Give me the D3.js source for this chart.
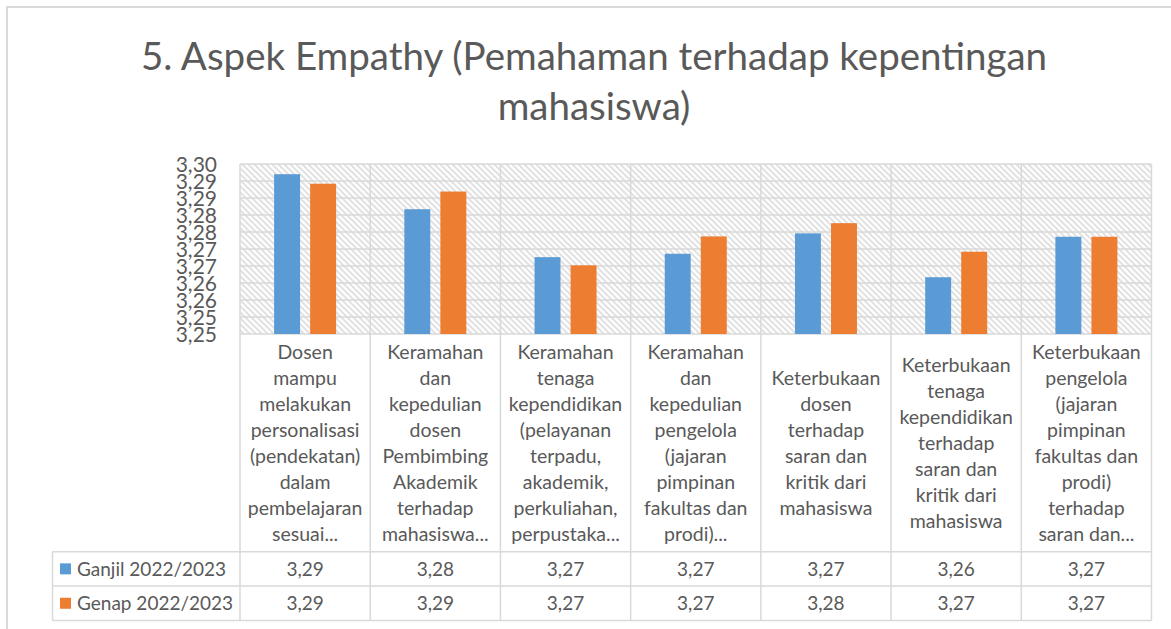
<!DOCTYPE html>
<html>
<head>
<meta charset="utf-8">
<script src="https://cdn.jsdelivr.net/npm/d3@7"></script>
<style>
  body { margin: 0; background: #fff; }
  text { font-family: Lato, "Open Sans", sans-serif; fill: #595959; }
</style>
</head>
<body>
<div id="chart"></div>
<script>
// Data
const categories = [
  ["Dosen", "mampu", "melakukan", "personalisasi", "(pendekatan)", "dalam", "pembelajaran", "sesuai..."],
  ["Keramahan", "dan", "kepedulian", "dosen", "Pembimbing", "Akademik", "terhadap", "mahasiswa..."],
  ["Keramahan", "tenaga", "kependidikan", "(pelayanan", "terpadu,", "akademik,", "perkuliahan,", "perpustaka..."],
  ["Keramahan", "dan", "kepedulian", "pengelola", "(jajaran", "pimpinan", "fakultas dan", "prodi)..."],
  ["Keterbukaan", "dosen", "terhadap", "saran dan", "kritik dari", "mahasiswa"],
  ["Keterbukaan", "tenaga", "kependidikan", "terhadap", "saran dan", "kritik dari", "mahasiswa"],
  ["Keterbukaan", "pengelola", "(jajaran", "pimpinan", "fakultas dan", "prodi)", "terhadap", "saran dan..."]
];
const seriesNames = ["Ganjil 2022/2023", "Genap 2022/2023"];
const ganjil = [3.2970, 3.2867, 3.2726, 3.2736, 3.2796, 3.2667, 3.2786];
const genap = [3.2942, 3.2919, 3.2702, 3.2787, 3.2826, 3.2742, 3.2786];
const colors = ["#5B9BD5", "#ED7D31"];
const title = ["5. Aspek Empathy (Pemahaman terhadap kepentingan", "mahasiswa)"];

const W = 1171, H = 629;
const plotLeft = 240, plotRight = 1151.5, plotTop = 164, plotBottom = 334;
const legendLeft = 52.5;
const rowLines = [551.7, 586, 620.5];
const gridColor = "#d9d9d9";

const svg = d3.select("#chart").append("svg")
  .attr("width", W)
  .attr("height", H);

// hatch pattern for the plot area
const pat = svg.append("defs").append("pattern")
  .attr("id", "hatch")
  .attr("patternUnits", "userSpaceOnUse")
  .attr("width", 6)
  .attr("height", 6);
pat.append("rect").attr("width", 6).attr("height", 6).attr("fill", "#fff");
pat.append("path")
  .attr("d", "M0,0L6,6M-1,5L1,7M5,-1L7,1")
  .attr("stroke", "#e2e2e2")
  .attr("stroke-width", 2);

// chart frame
svg.append("path")
  .attr("d", `M7,${H}V7H${W}`)
  .attr("fill", "none")
  .attr("stroke", gridColor)
  .attr("stroke-width", 2);

// title
svg.append("text")
  .attr("x", 594)
  .attr("text-anchor", "middle")
  .style("font-size", "38.5px")
  .selectAll("tspan")
  .data(title)
  .join("tspan")
  .attr("x", 594)
  .attr("y", (d, i) => 70 + i * 50)
  .text((d) => d);

// scales
const x = d3.scaleBand()
  .domain(d3.range(categories.length))
  .range([plotLeft, plotRight]);
const bw = x.bandwidth();
const x1 = d3.scaleBand()
  .domain(seriesNames)
  .range([bw / 2 - 31, bw / 2 + 31])
  .paddingInner(0.28);
const y = d3.scaleLinear().domain([3.25, 3.30]).range([plotBottom, plotTop]);

// Excel label format here truncates to 2 decimals
const fmt = (v) => (Math.floor(v * 100 + 1e-6) / 100).toFixed(2).replace(".", ",");

svg.append("rect")
  .attr("x", plotLeft)
  .attr("y", plotTop)
  .attr("width", plotRight - plotLeft)
  .attr("height", plotBottom - plotTop)
  .attr("fill", "url(#hatch)");

const ticks = y.ticks(10);

// horizontal gridlines
svg.append("g")
  .selectAll("line")
  .data(ticks)
  .join("line")
  .attr("x1", plotLeft)
  .attr("x2", plotRight)
  .attr("y1", (d) => y(d))
  .attr("y2", (d) => y(d))
  .attr("stroke", gridColor)
  .attr("stroke-width", 1.5);

// column lines through plot and table
const colEdges = d3.range(categories.length).map((i) => x(i)).concat([plotRight]);
svg.append("g")
  .selectAll("line")
  .data(colEdges)
  .join("line")
  .attr("x1", (d) => d)
  .attr("x2", (d) => d)
  .attr("y1", plotTop)
  .attr("y2", rowLines[2])
  .attr("stroke", gridColor)
  .attr("stroke-width", 1.5);

// table rows
const table = svg.append("g");
table.selectAll("line.row")
  .data(rowLines)
  .join("line")
  .attr("class", "row")
  .attr("x1", legendLeft)
  .attr("x2", plotRight)
  .attr("y1", (d) => d)
  .attr("y2", (d) => d)
  .attr("stroke", gridColor)
  .attr("stroke-width", 1.5);
table.append("line")
  .attr("x1", legendLeft)
  .attr("x2", legendLeft)
  .attr("y1", rowLines[0])
  .attr("y2", rowLines[2])
  .attr("stroke", gridColor)
  .attr("stroke-width", 1.5);

// bars
const series = [ganjil, genap];
series.forEach((vals, s) => {
  svg.append("g")
    .selectAll("rect")
    .data(vals)
    .join("rect")
    .attr("x", (d, i) => x(i) + x1(seriesNames[s]))
    .attr("y", (d) => y(d))
    .attr("width", x1.bandwidth())
    .attr("height", (d) => plotBottom - y(d))
    .attr("fill", colors[s]);
});

// y tick labels (they crowd each other, as in the original)
svg.append("g")
  .selectAll("text")
  .data(ticks)
  .join("text")
  .attr("x", 217)
  .attr("y", (d) => y(d))
  .attr("dy", "0.36em")
  .attr("text-anchor", "end")
  .style("font-size", "21px")
  .text((d) => fmt(d));

// category labels in the table header cells
const lineH = 26;
const cellMid = (plotBottom + rowLines[0]) / 2;
svg.append("g")
  .selectAll("text")
  .data(categories)
  .join("text")
  .attr("text-anchor", "middle")
  .style("font-size", "19.5px")
  .each(function (lines, i) {
    const t = d3.select(this);
    const y0 = cellMid - ((lines.length - 1) * lineH) / 2;
    lines.forEach((ln, k) => {
      t.append("tspan")
        .attr("x", x(i) + bw / 2)
        .attr("y", y0 + k * lineH)
        .attr("dy", "0.36em")
        .text(ln);
    });
  });

// data rows
series.forEach((vals, s) => {
  const rowMid = (rowLines[s] + rowLines[s + 1]) / 2;
  const row = svg.append("g");
  row.append("rect")
    .attr("x", 60)
    .attr("y", rowMid - 5.5)
    .attr("width", 11)
    .attr("height", 11)
    .attr("fill", colors[s]);
  row.append("text")
    .attr("x", 77)
    .attr("y", rowMid)
    .attr("dy", "0.36em")
    .style("font-size", "19px")
    .text(seriesNames[s]);
  row.selectAll("text.val")
    .data(vals)
    .join("text")
    .attr("class", "val")
    .attr("x", (d, i) => x(i) + bw / 2)
    .attr("y", rowMid)
    .attr("dy", "0.36em")
    .attr("text-anchor", "middle")
    .style("font-size", "19px")
    .text((d) => fmt(d));
});
</script>
</body>
</html>
